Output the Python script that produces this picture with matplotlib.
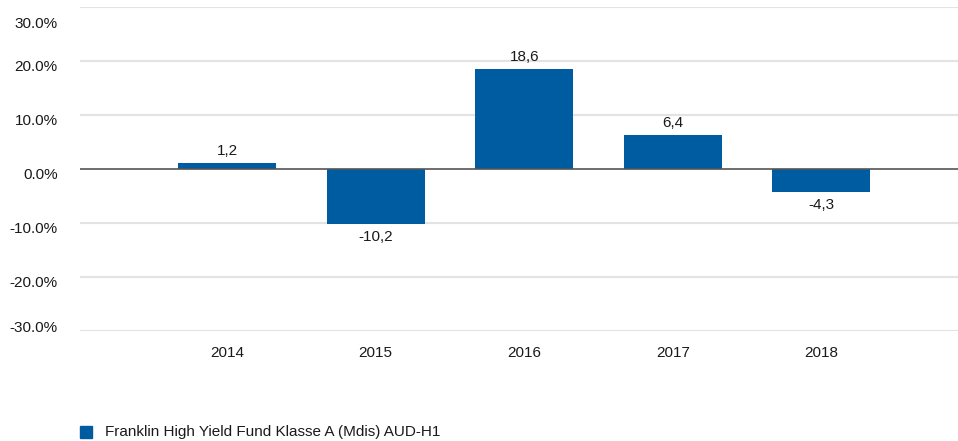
import matplotlib

matplotlib.use("Agg")
import matplotlib.pyplot as plt
from matplotlib.patches import Rectangle
from matplotlib.transforms import ScaledTranslation

years = ["2014", "2015", "2016", "2017", "2018"]
returns = [1.2, -10.2, 18.6, 6.4, -4.3]
value_labels = ["1,2", "-10,2", "18,6", "6,4", "-4,3"]
y_ticks = [-30, -20, -10, 0, 10, 20, 30]
series_name = "Franklin High Yield Fund Klasse A (Mdis) AUD-H1"

BAR_COLOR = "#005ca1"
TEXT_COLOR = "#1a1a1a"
FS = 11
plt.rcParams["font.family"] = ["Liberation Sans", "DejaVu Sans"]

fig = plt.figure(figsize=(9.58, 4.41), dpi=100)
ax = fig.add_axes([0.0835, 0.249, 0.9165, 0.735])

x = list(range(len(years)))
ax.bar(x, returns, width=0.66, color=BAR_COLOR, zorder=3)

for xi, val, lab in zip(x, returns, value_labels):
    if val >= 0:
        ax.annotate(lab, (xi, val), xytext=(0, 3), textcoords="offset points",
                    ha="center", va="bottom", fontsize=FS, color=TEXT_COLOR)
    else:
        ax.annotate(lab, (xi, val), xytext=(0, -4), textcoords="offset points",
                    ha="center", va="top", fontsize=FS, color=TEXT_COLOR)

ax.set_ylim(-30, 30)
ax.set_xlim(-0.99, 4.92)
ax.set_yticks(y_ticks)
ax.set_yticklabels([f"{t:.1f}%" for t in y_ticks])
ax.set_xticks(x)
ax.set_xticklabels(years)
ax.tick_params(axis="both", length=0, labelsize=FS, colors=TEXT_COLOR)
ax.tick_params(axis="y", pad=16)
ax.tick_params(axis="x", pad=11)

# end labels are pushed inward, the rest sit a little below their gridline
shifts = {-30: 5, 30: -15}
for t, lab in zip(y_ticks, ax.get_yticklabels()):
    dy = shifts.get(t, -4) / 100
    lab.set_transform(lab.get_transform() + ScaledTranslation(0, dy, fig.dpi_scale_trans))

for t in y_ticks:
    if t != 0:
        ax.axhline(t, color="#e3e3e3", linewidth=1.5, zorder=1)
ax.axhline(0, color="#555555", linewidth=1.2, zorder=4)

for side in ["top", "right", "bottom", "left"]:
    ax.spines[side].set_visible(False)

fig.patches.append(Rectangle((80 / 958, 1 - 438 / 441), 12 / 958, 12 / 441,
                             transform=fig.transFigure, color=BAR_COLOR))
fig.text(105 / 958, 1 - 432 / 441, series_name, fontsize=FS, color=TEXT_COLOR,
         va="center", ha="left")

fig.savefig("out.png", dpi=100)
